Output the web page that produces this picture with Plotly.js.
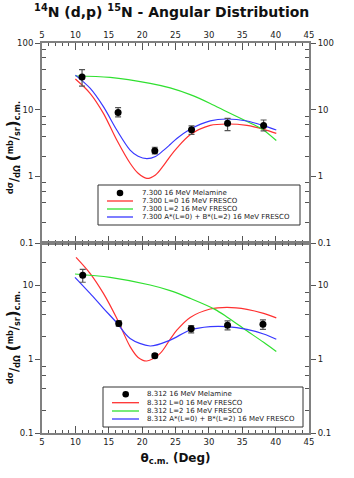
<!DOCTYPE html>
<html>
<head>
<meta charset="utf-8">
<script src="https://cdn.plot.ly/plotly-3.0.1.min.js"></script>
<style>
  body { margin: 0; background: #fff; }
  #plot { width: 354px; height: 478px; }
</style>
</head>
<body>
<div id="plot"></div>
<script>
// ---- data ----
// 7.300 state (top panel)
var topExpX = [11, 16.4, 21.9, 27.4, 32.8, 38.2];
var topExpY = [31, 9.1, 2.43, 5.0, 6.25, 5.8];
var topErrUp = [9, 1.6, 0.3, 0.7, 1.15, 1.2];
var topErrDown = [8.4, 1.3, 0.26, 0.74, 1.41, 1.0];

var topL0X = [10, 12.2, 14.2, 16.2, 18.2, 19.4, 20.7, 22, 23.2, 24.2, 25.2, 27.2, 30.2, 32.7, 35.7, 38.2, 40.1];
var topL0Y = [28.8, 17.6, 8.8, 3.5, 1.57, 1.11, 0.93, 1.05, 1.45, 2.0, 2.65, 4.2, 5.8, 6.1, 5.8, 5.07, 4.4];

var topL2X = [10, 15.2, 21.2, 24.2, 27.2, 30.2, 32.7, 35.5, 38.0, 40.1];
var topL2Y = [32, 30.5, 24.8, 21.2, 16.8, 12.4, 9.3, 6.8, 5.1, 3.45];

var topSumX = [10, 12.2, 14.2, 16.2, 18.2, 19.4, 20.7, 22, 23.2, 24.2, 25.2, 27.2, 30.2, 32.7, 35.7, 38.2, 40.1];
var topSumY = [33, 21, 11.1, 4.96, 2.48, 2.0, 1.84, 1.98, 2.45, 3.0, 3.7, 5.1, 6.8, 7.25, 6.76, 5.75, 4.96];

// 8.312 state (bottom panel)
var botExpX = [11.1, 16.5, 21.9, 27.35, 32.8, 38.1];
var botExpY = [13.6, 3.03, 1.11, 2.57, 2.85, 2.94];
var botErrUp = [2.7, 0.24, 0.07, 0.25, 0.42, 0.43];
var botErrDown = [2.7, 0.24, 0.07, 0.31, 0.38, 0.43];

var botL0X = [10.1, 12.2, 14.2, 16.2, 18.2, 19.4, 20.7, 22.7, 24.2, 25.2, 27.2, 30.2, 32.7, 35.7, 38.2, 40.1];
var botL0Y = [23.7, 14.4, 7.7, 3.55, 1.47, 1.05, 0.94, 1.19, 1.85, 2.45, 3.65, 4.74, 5.0, 4.7, 4.14, 3.6];

var botL2X = [9.94, 15.2, 21.2, 24.2, 27.2, 30.9, 32.7, 35.5, 38.2, 40.1];
var botL2Y = [14.1, 12.7, 10, 8.4, 6.6, 4.69, 3.7, 2.47, 1.68, 1.26];

var botSumX = [9.94, 12.2, 14.2, 16.2, 18.2, 21.2, 24.2, 27.2, 30.2, 32.7, 35.7, 38.2, 40.1];
var botSumY = [12.7, 7.7, 4.85, 3.09, 1.9, 1.5, 1.8, 2.47, 2.74, 2.74, 2.51, 2.18, 1.85];

var topNames = ['7.300 16 MeV Melamine', '7.300 L=0 16 MeV FRESCO', '7.300 L=2 16 MeV FRESCO', '7.300 A*(L=0) + B*(L=2) 16 MeV FRESCO'];
var botNames = ['8.312 16 MeV Melamine', '8.312 L=0 16 MeV FRESCO', '8.312 L=2 16 MeV FRESCO', '8.312 A*(L=0) + B*(L=2) 16 MeV FRESCO'];

var xTicks = [5, 10, 15, 20, 25, 30, 35, 40, 45];
var yTicksTop = [0.1, 1, 10, 100];
var yTicksBot = [0.1, 1, 10];
var yMinor = [0.2, 0.4, 0.6, 0.8, 2, 4, 6, 8, 20, 40, 60, 80];

// ---- styles ----
var RED = '#ff3030', GREEN = '#30e030', BLUE = '#3838ff';
var AXIS = '#808080';
var FONT = 'DejaVu Sans, sans-serif';

// page geometry (px) used to place the hand-made legends
var W = 354, H = 478;
var M = {l: 42, r: 45, t: 43, b: 45};
var plotW = W - M.l - M.r, plotH = H - M.t - M.b;
function px2x(px) { return (px - M.l) / plotW; }
function py2y(py) { return (H - M.b - py) / plotH; }
var split = py2y(243);

function expTrace(x, y, up, down, name, xa, ya) {
  return {
    type: 'scatter', mode: 'markers', name: name, x: x, y: y,
    xaxis: xa, yaxis: ya,
    marker: {color: '#000', size: 7},
    error_y: {type: 'data', symmetric: false, array: up, arrayminus: down,
              color: '#555', thickness: 1.2, width: 3},
    showlegend: false
  };
}
function lineTrace(x, y, color, name, xa, ya) {
  return {
    type: 'scatter', mode: 'lines', name: name, x: x, y: y,
    xaxis: xa, yaxis: ya,
    line: {color: color, width: 1.2, shape: 'spline', smoothing: 0.9},
    showlegend: false
  };
}
// empty traces so the right-hand duplicate axes get drawn
function dummy(xa, ya) {
  return {type: 'scatter', mode: 'markers', x: [], y: [], xaxis: xa, yaxis: ya,
    showlegend: false, hoverinfo: 'skip'};
}

var data = [
  lineTrace(topL0X, topL0Y, RED, topNames[1], 'x', 'y'),
  lineTrace(topL2X, topL2Y, GREEN, topNames[2], 'x', 'y'),
  lineTrace(topSumX, topSumY, BLUE, topNames[3], 'x', 'y'),
  expTrace(topExpX, topExpY, topErrUp, topErrDown, topNames[0], 'x', 'y'),
  lineTrace(botL0X, botL0Y, RED, botNames[1], 'x2', 'y2'),
  lineTrace(botL2X, botL2Y, GREEN, botNames[2], 'x2', 'y2'),
  lineTrace(botSumX, botSumY, BLUE, botNames[3], 'x2', 'y2'),
  expTrace(botExpX, botExpY, botErrUp, botErrDown, botNames[0], 'x2', 'y2'),
  dummy('x', 'y3'),
  dummy('x2', 'y4')
];

var tickFont = {family: FONT, size: 8.5, color: '#222'};

function xAxis(side, anchor, showLabels) {
  return {
    anchor: anchor, side: side, range: [5, 45],
    tickvals: xTicks, ticktext: xTicks.map(String),
    showticklabels: showLabels,
    ticks: 'inside', ticklen: 7, tickcolor: '#555', tickwidth: 1,
    minor: {dtick: 1, tick0: 5, ticks: 'inside', ticklen: 3, tickcolor: '#555', showgrid: false},
    showline: true, linecolor: AXIS, linewidth: 2, mirror: 'ticks',
    showgrid: false, zeroline: false, tickfont: tickFont
  };
}
function yAxis(domain, range, ticks, side, anchor, overlay) {
  var ax = {
    type: 'log', domain: domain, range: range, side: side, anchor: anchor,
    tickvals: ticks, ticktext: ticks.map(String),
    ticks: 'outside', ticklen: 5, tickcolor: '#555', tickwidth: 1,
    minor: {tickvals: yMinor, ticks: 'inside', ticklen: 4, tickcolor: '#555', showgrid: false},
    showline: true, linecolor: AXIS, linewidth: 2,
    showgrid: false, zeroline: false, tickfont: tickFont
  };
  if (overlay) { ax.overlaying = overlay; }
  return ax;
}

var xa2 = xAxis('bottom', 'y2', true);
xa2.title = {text: '<b>θ<sub>c.m.</sub> (Deg)</b>', font: {family: FONT, size: 12, color: '#111'}, standoff: 7};

// hand-made legends (plotly's own entries are too tall for this box)
function legend(box, rows, symX, lineX, textX, names) {
  var shapes = [{type: 'rect', xref: 'paper', yref: 'paper',
    x0: px2x(box[0]), x1: px2x(box[1]), y0: py2y(box[3]), y1: py2y(box[2]),
    line: {color: '#333', width: 1}, fillcolor: '#fff', layer: 'above'}];
  var r = 3.3;
  shapes.push({type: 'circle', xref: 'paper', yref: 'paper',
    x0: px2x(symX - r), x1: px2x(symX + r), y0: py2y(rows[0] + r), y1: py2y(rows[0] - r),
    fillcolor: '#000', line: {color: '#000', width: 0}, layer: 'above'});
  var cols = [RED, GREEN, BLUE];
  for (var i = 1; i < 4; i++) {
    shapes.push({type: 'line', xref: 'paper', yref: 'paper',
      x0: px2x(lineX[0]), x1: px2x(lineX[1]), y0: py2y(rows[i]), y1: py2y(rows[i]),
      line: {color: cols[i - 1], width: 1.3}, layer: 'above'});
  }
  var ann = names.map(function(n, i) {
    return {text: n, xref: 'paper', yref: 'paper', x: px2x(textX), y: py2y(rows[i]),
      xanchor: 'left', yanchor: 'middle', showarrow: false,
      font: {family: FONT, size: 7, color: '#222'}};
  });
  return {shapes: shapes, annotations: ann};
}
var legTop = legend([98, 300, 185, 225], [193, 201, 209, 217], 120, [107, 133], 140, topNames);
var legBot = legend([103, 303, 387, 427], [394.3, 402.7, 411, 419], 125.7, [112, 139], 145, botNames);

var yTitle = '<b><sup>dσ</sup>/<sub>dΩ</sub> <span style="font-size:15px">(</span><sup>mb</sup>/<sub>sr</sub><span style="font-size:15px">)</span><sub>c.m.</sub></b>';
function yTitleAnn(py) {
  return {text: yTitle, xref: 'paper', yref: 'paper', x: px2x(13), y: py2y(py),
    xanchor: 'center', yanchor: 'middle', textangle: -90, showarrow: false,
    font: {family: FONT, size: 11.5, color: '#111'}};
}

var layout = {
  width: W, height: H,
  margin: M,
  paper_bgcolor: '#fff', plot_bgcolor: '#fff',
  font: {family: FONT},
  showlegend: false,
  title: {text: '<b><sup>14</sup>N (d,p) <sup>15</sup>N - Angular Distribution</b>',
          font: {family: FONT, size: 14, color: '#111'},
          x: 0.485, xanchor: 'center', y: 1 - 12 / H, yanchor: 'middle', yref: 'container'},
  xaxis: xAxis('top', 'y', true),
  xaxis2: xa2,
  yaxis: yAxis([split, 1], [-1, 2], yTicksTop, 'left', 'x'),
  yaxis3: yAxis([split, 1], [-1, 2], yTicksTop, 'right', 'x', 'y'),
  yaxis2: yAxis([0, split], [-1, 1.568], yTicksBot, 'left', 'x2'),
  yaxis4: yAxis([0, split], [-1, 1.568], yTicksBot, 'right', 'x2', 'y2'),
  shapes: legTop.shapes.concat(legBot.shapes),
  annotations: legTop.annotations.concat(legBot.annotations, [yTitleAnn(148), yTitleAnn(338)])
};

Plotly.newPlot('plot', data, layout, {staticPlot: true});
</script>
</body>
</html>
